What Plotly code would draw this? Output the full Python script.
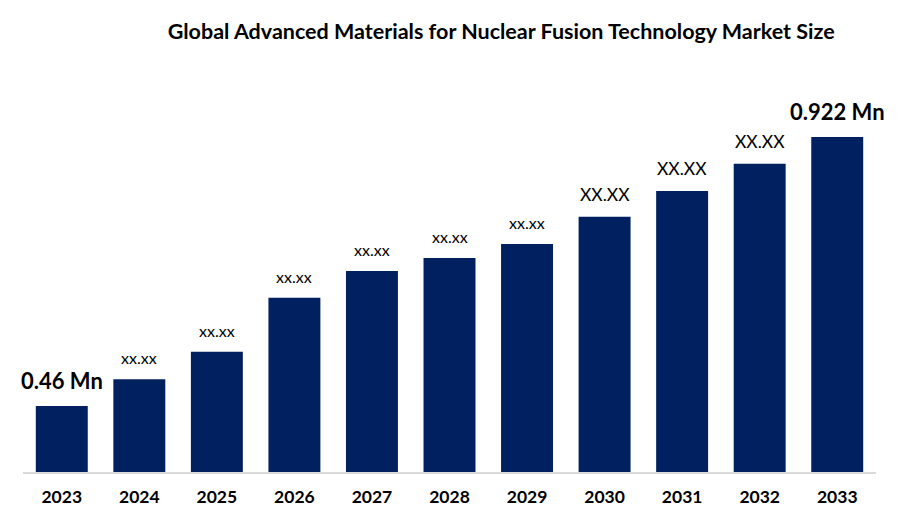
import plotly.graph_objects as go

years = ['2023', '2024', '2025', '2026', '2027', '2028', '2029', '2030', '2031', '2032', '2033']
market_size = [0.46, 0.506, 0.553, 0.646, 0.692, 0.714, 0.738, 0.785, 0.829, 0.876, 0.922]
bar_labels = ['0.46 Mn', 'xx.xx', 'xx.xx', 'xx.xx', 'xx.xx', 'xx.xx', 'xx.xx', 'XX.XX', 'XX.XX', 'XX.XX', '0.922 Mn']

FONT = 'Lato'

fig = go.Figure()
fig.add_trace(go.Bar(x=years, y=market_size, marker=dict(color='#002060', line=dict(width=0)),
                     hoverinfo='x+y'))

# labels above the bars, styled like the original (bold ends, small placeholders in between)
# x given as category index, otherwise '2023' etc. get read as numbers and stretch the axis
annotations = []
for i, (val, lab) in enumerate(zip(market_size, bar_labels)):
    if 'Mn' in lab:
        txt, size = '<b>' + lab + '</b>', 22
    elif lab.isupper():
        txt, size = lab, 17.5
    else:
        txt, size = lab, 16
    annotations.append(dict(x=i, y=val, text=txt, showarrow=False, yanchor='bottom', yshift=10,
                            font=dict(family=FONT, size=size, color='#000000')))

# page body has an 8px margin, margins below account for it
fig.update_layout(
    width=900, height=525,
    paper_bgcolor='white', plot_bgcolor='white',
    margin=dict(l=15, r=32, t=52, b=61),
    bargap=0.33,
    showlegend=False,
    title=dict(text='<b>Global Advanced Materials for Nuclear Fusion Technology Market Size</b>',
               x=0.548, xanchor='center', y=0.956, yanchor='middle',
               font=dict(family=FONT, size=21.5, color='#000000')),
    annotations=annotations,
    xaxis=dict(type='category', range=[-0.5, len(years) - 0.5], showgrid=False, showline=True,
               linecolor='#d9d9d9', linewidth=2, ticks='', ticklabelstandoff=8,
               tickfont=dict(family=FONT, size=17.5, color='#000000', weight='bold')),
    yaxis=dict(visible=False, range=[0.3466, 1.0542], showgrid=False),
)

fig.write_html('out.html')
